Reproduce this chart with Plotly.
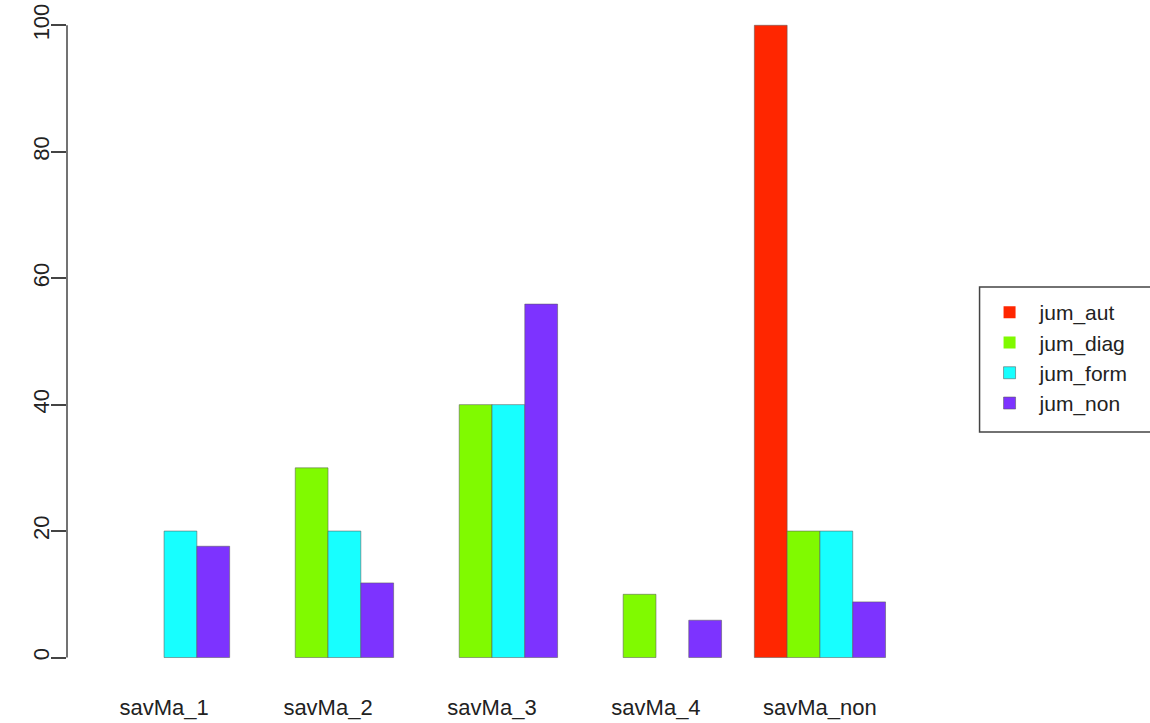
import plotly.graph_objects as go

categories = ["savMa_1", "savMa_2", "savMa_3", "savMa_4", "savMa_non"]
series_names = ["jum_aut", "jum_diag", "jum_form", "jum_non"]
jum_aut = [0, 0, 0, 0, 100]
jum_diag = [0, 30, 40, 10, 20]
jum_form = [20, 20, 40, 0, 20]
jum_non = [17.6, 11.8, 55.9, 5.9, 8.8]
colors = ["#FF2600", "#80FA00", "#17FFFF", "#7D33FF"]
y_ticks = [0, 20, 40, 60, 80, 100]

series_values = [jum_aut, jum_diag, jum_form, jum_non]

FONT = "Liberation Sans, Arial, Helvetica, sans-serif"

fig = go.Figure()
for name, vals, col in zip(series_names, series_values, colors):
    fig.add_trace(go.Bar(
        x=categories, y=vals, name=name,
        marker=dict(color=col,
                    line=dict(color="rgba(90,90,90,0.55)",
                              width=[1 if v else 0 for v in vals])),
    ))

fig.update_layout(
    width=1150, height=723,
    barmode="group", bargap=0.2, bargroupgap=0,
    plot_bgcolor="white", paper_bgcolor="white",
    margin=dict(l=67, r=233, t=0, b=40, pad=0),
    font=dict(family=FONT, size=22, color="#222"),
    showlegend=True,
    legend=dict(
        x=1.0736, y=0.5725, xanchor="left", yanchor="top",
        borderwidth=0, bgcolor="rgba(0,0,0,0)",
        font=dict(family=FONT, size=21, color="#222"),
        tracegroupgap=0, itemwidth=50,
    ),
    xaxis=dict(
        type="category", range=[-0.592, 4.592], automargin=False,
        showgrid=False, showline=False, zeroline=False, ticks="",
        tickfont=dict(family=FONT, size=22, color="#222"),
        ticklabelstandoff=9,
    ),
    yaxis=dict(
        range=[-4.03, 104.0], tickvals=y_ticks, ticktext=[str(v) for v in y_ticks],
        automargin=False,
        showgrid=False, zeroline=False, showline=False,
        ticks="outside", ticklen=15, tickwidth=1.5, tickcolor="#444",
        tickangle=-90,
        tickfont=dict(family=FONT, size=22, color="#222"),
        ticklabelstandoff=-7,
    ),
)

# y axis line spanning only the tick range (as in base R)
fig.add_shape(type="line", xref="paper", yref="y",
              x0=0, x1=0, y0=y_ticks[0], y1=y_ticks[-1],
              line=dict(color="#444", width=1.5))

# legend frame
fig.add_shape(type="rect", xref="paper", yref="paper",
              x0=1.0736, x1=1.2765, y0=0.3675, y1=0.5798,
              line=dict(color="#444", width=1.5), fillcolor="rgba(0,0,0,0)",
              layer="below")

# remove the browser's default 8px body margin so the figure sits at the window origin
fig.write_html("out.html", config={"displayModeBar": False},
               post_script="document.body.style.margin='0px';")
